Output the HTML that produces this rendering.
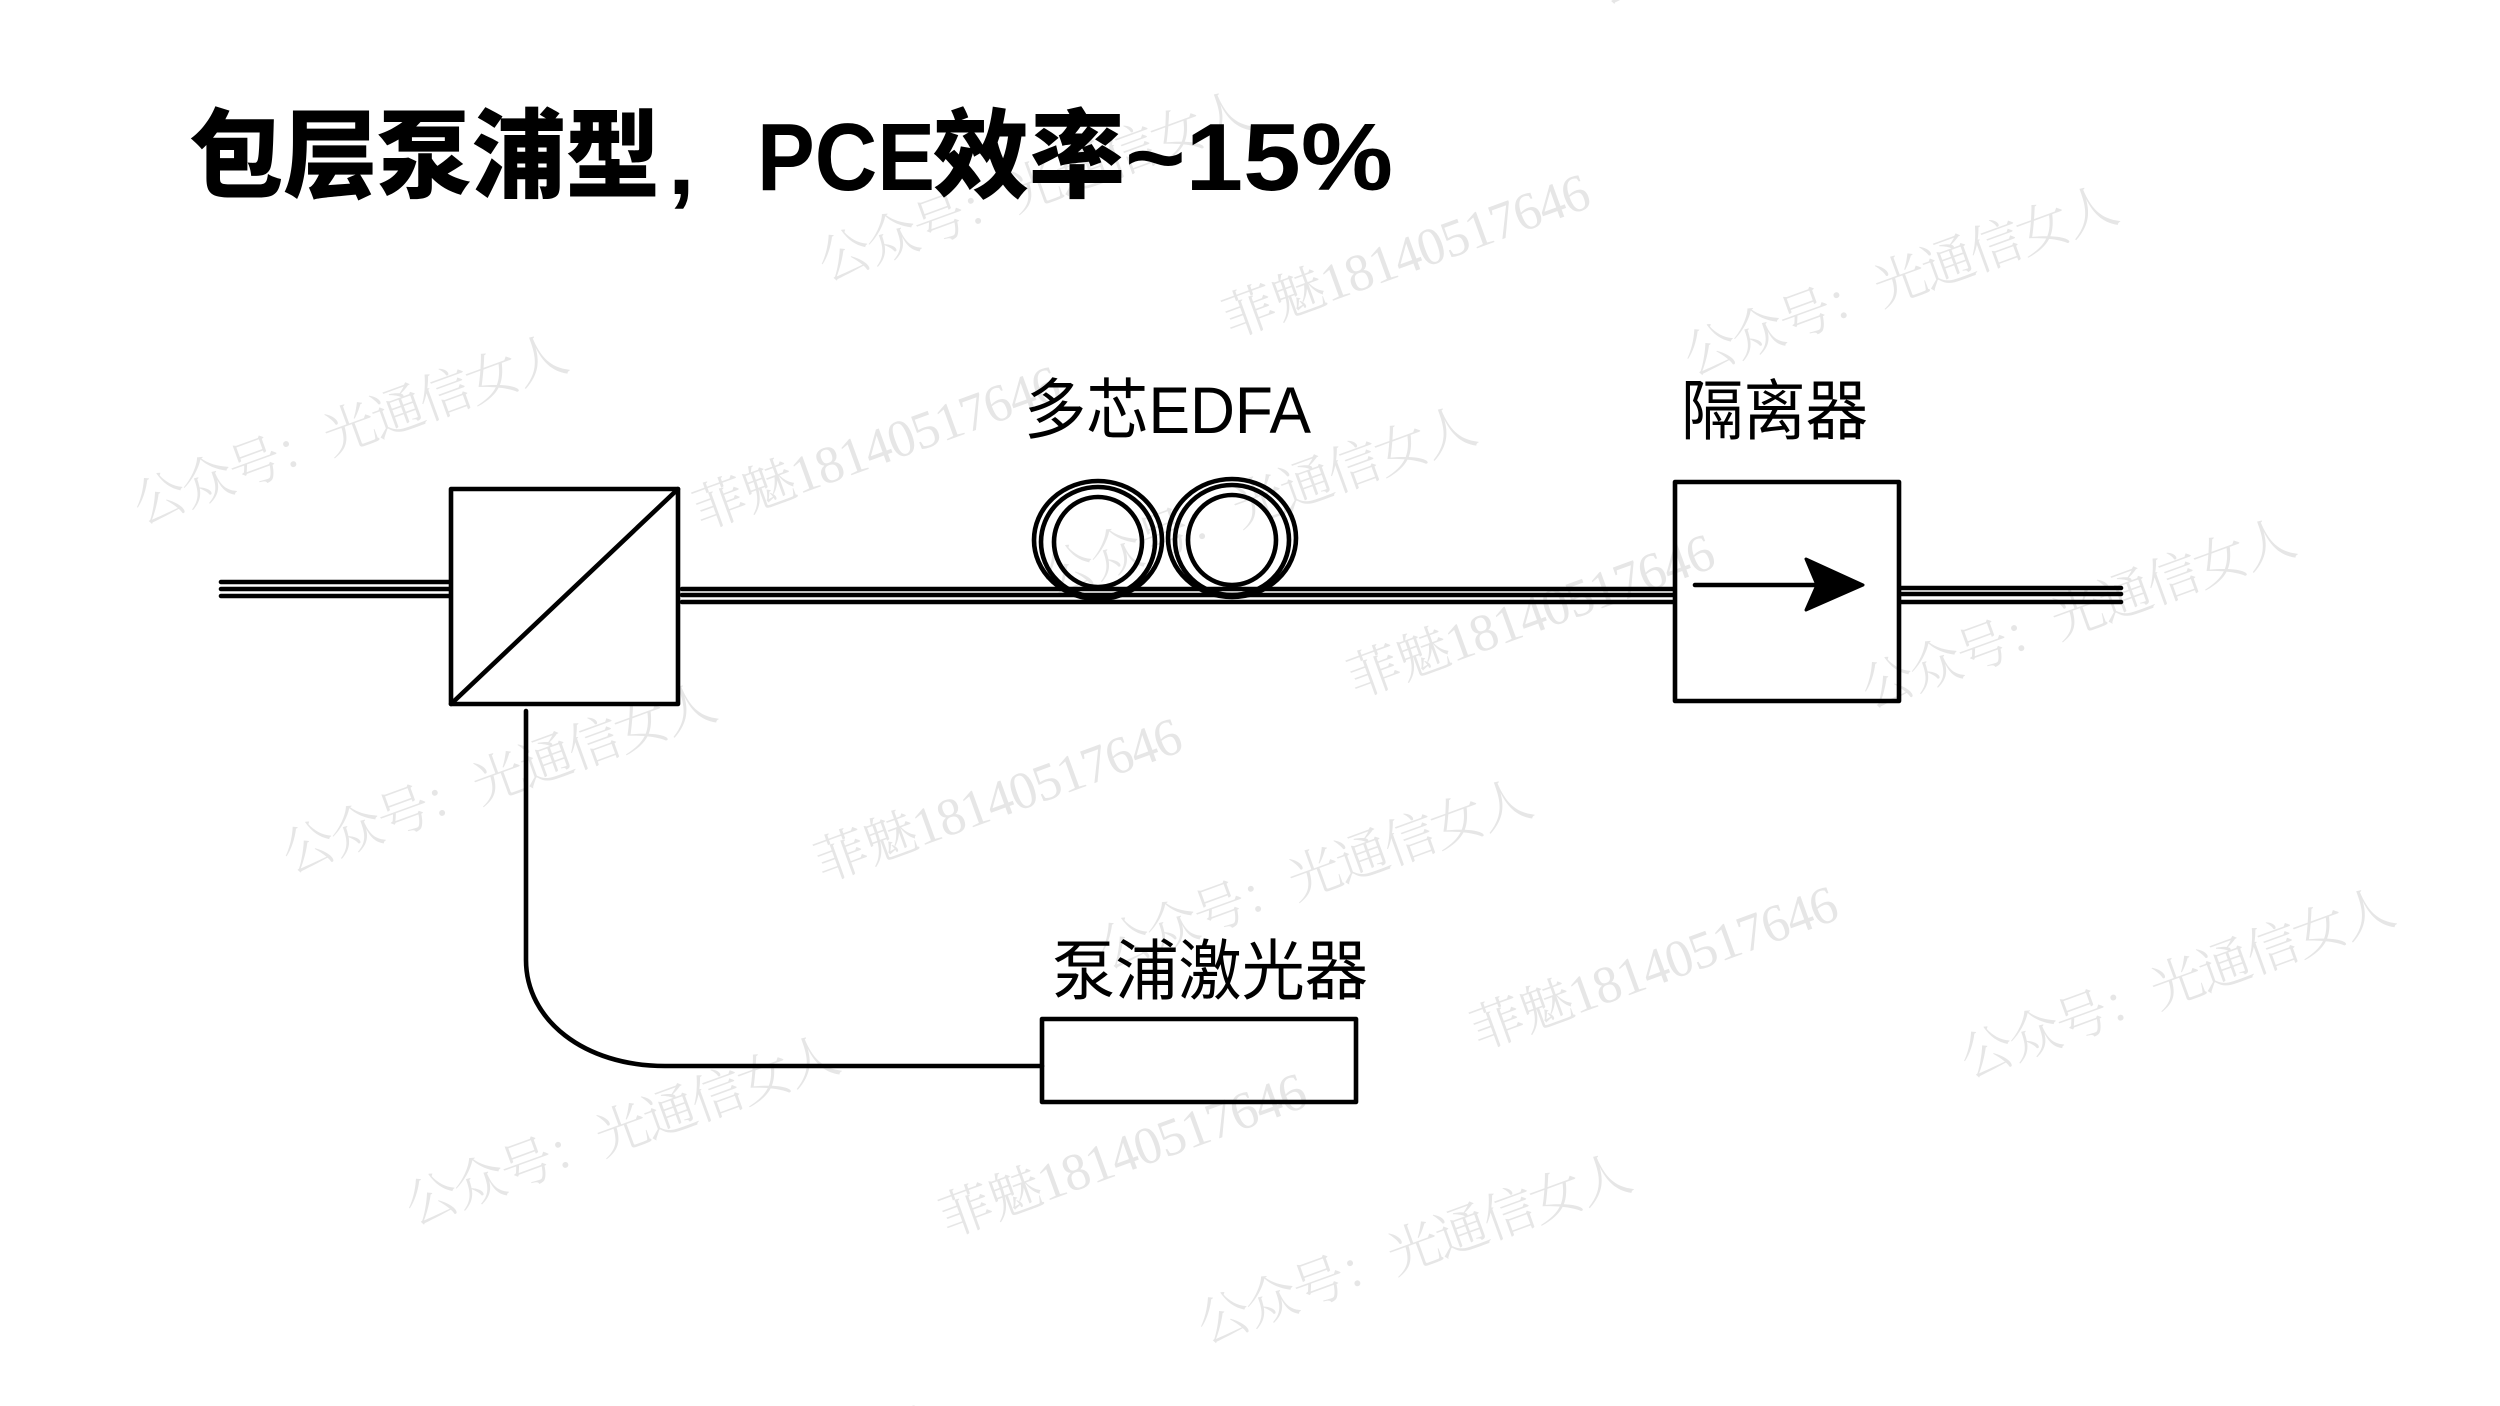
<!DOCTYPE html>
<html lang="zh">
<head>
<meta charset="utf-8">
<title>包层泵浦型</title>
<style>
html,body{margin:0;padding:0;background:#fff;width:2500px;height:1406px;overflow:hidden}
svg{display:block}
.cjk{font-family:"Liberation Sans","Noto Sans CJK SC",sans-serif}
.wm{font-family:"Liberation Serif","Noto Serif CJK SC",serif;font-size:33px;fill:#e6e6e6;text-anchor:middle;dominant-baseline:central;font-weight:300}
.l{fill:none;stroke:#000;stroke-width:4.6;stroke-linecap:round;stroke-linejoin:round}
</style>
</head>
<body>
<svg width="2500" height="1406" viewBox="0 0 2500 1406" xmlns="http://www.w3.org/2000/svg">
<rect width="2500" height="1406" fill="#fff"/>
<g transform="scale(1.6)">
<text class="wm" transform="translate(219,269) rotate(-20)" textLength="286">公众号：光通信女人</text>
<text class="wm" transform="translate(312,487) rotate(-20)" textLength="286">公众号：光通信女人</text>
<text class="wm" transform="translate(389,707) rotate(-20)" textLength="286">公众号：光通信女人</text>
<text class="wm" transform="translate(884,781) rotate(-20)" textLength="286">公众号：光通信女人</text>
<text class="wm" transform="translate(1299,384) rotate(-20)" textLength="286">公众号：光通信女人</text>
<text class="wm" transform="translate(1188,176) rotate(-20)" textLength="286">公众号：光通信女人</text>
<text class="wm" transform="translate(1361,615) rotate(-20)" textLength="286">公众号：光通信女人</text>
<text class="wm" transform="translate(822,547) rotate(-20)" textLength="286">公众号：光通信女人</text>
<text class="wm" transform="translate(647,117) rotate(-20)" textLength="286">公众号：光通信女人</text>
<text class="wm" transform="translate(787,314) rotate(-20)" textLength="286">公众号：光通信女人</text>
<text class="wm" transform="translate(1133,-56) rotate(-20)" textLength="286">公众号：光通信女人</text>
<text class="wm" transform="translate(548,280) rotate(-20)" textLength="241">菲魅18140517646</text>
<text class="wm" transform="translate(879,160) rotate(-20)" textLength="241">菲魅18140517646</text>
<text class="wm" transform="translate(957,385) rotate(-20)" textLength="241">菲魅18140517646</text>
<text class="wm" transform="translate(624,500) rotate(-20)" textLength="241">菲魅18140517646</text>
<text class="wm" transform="translate(1034,605) rotate(-20)" textLength="241">菲魅18140517646</text>
<text class="wm" transform="translate(702,722) rotate(-20)" textLength="241">菲魅18140517646</text>
<circle cx="571" cy="880" r="1.6" fill="#e6e6e6"/>
</g>
<g class="l">
<path class="l" d="M221 582H449M221 589H449M221 596H449"/>
<path class="l" d="M682 589H1673M682 595H1673M682 602H1673"/>
<path class="l" d="M1900 588H2121M1900 594H2121M1900 602H2121"/>
<rect class="l" x="451" y="489" width="227" height="215" style="fill:none"/>
<path class="l" d="M451 704L678 489"/>
<ellipse class="l" cx="1098" cy="540" rx="64" ry="59"/>
<ellipse class="l" cx="1098" cy="542" rx="57" ry="55"/>
<ellipse class="l" cx="1098" cy="542" rx="44" ry="45"/>
<ellipse class="l" cx="1232" cy="538" rx="64" ry="59"/>
<ellipse class="l" cx="1232" cy="540" rx="57" ry="55"/>
<ellipse class="l" cx="1232" cy="540" rx="44" ry="45"/>
<rect class="l" x="1675" y="482" width="224" height="219" style="fill:none"/>
<path class="l" d="M1695 585H1818"/>
<path d="M1806 559L1863 585L1806 610L1817 585Z" fill="#000" stroke="#000" stroke-width="3" stroke-linejoin="round"/>
<path class="l" d="M526 711V960C526 1020 584 1066 665 1066H1042"/>
<rect class="l" x="1042" y="1019" width="314" height="83" style="fill:none"/>
</g>
<g class="cjk" fill="#000">
<text x="189" y="190" font-size="97" font-weight="900" textLength="471" lengthAdjust="spacingAndGlyphs">包层泵浦型</text>
<text x="668" y="194" font-size="96" font-weight="700">,</text>
<text x="757" y="190" font-size="96" font-weight="700" textLength="178" lengthAdjust="spacingAndGlyphs">PCE</text>
<text x="933" y="190" font-size="97" font-weight="900" textLength="192" lengthAdjust="spacingAndGlyphs">效率</text>
<text x="1125" y="190" font-size="96" font-weight="700" textLength="268" lengthAdjust="spacingAndGlyphs">~15%</text>
<text x="1024" y="433" font-size="66" textLength="287" lengthAdjust="spacingAndGlyphs">多芯EDFA</text>
<text x="1681" y="434" font-size="66" textLength="187" lengthAdjust="spacingAndGlyphs">隔离器</text>
<text x="1052" y="994" font-size="66" textLength="316" lengthAdjust="spacingAndGlyphs">泵浦激光器</text>
</g>
</svg>
</body>
</html>
